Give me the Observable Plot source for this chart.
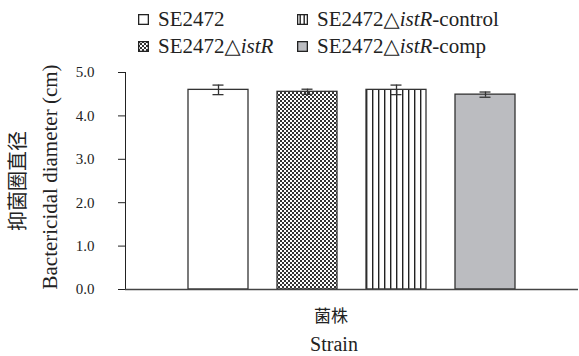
<!DOCTYPE html>
<html>
<head>
<meta charset="utf-8">
<script src="https://cdn.jsdelivr.net/npm/d3@7"></script>
<script src="https://cdn.jsdelivr.net/npm/@observablehq/plot@0.6"></script>
<style>
  body { margin: 0; background: #fff; }
  #wrap { position: relative; width: 579px; height: 356px; font-family: "Liberation Serif", "Times New Roman", "DejaVu Serif", "Liberation Sans", Arial, sans-serif; color: #222; }
  .leg { position: absolute; display: flex; align-items: center; font-size: 21px; white-space: nowrap; height: 24px; }
  .leg svg { margin-right: 9px; }
  .leg i { font-style: italic; }
  #wrap svg g[aria-label^="y-axis"] text { font-size: 15px; fill: #222; }
</style>
</head>
<body>
<svg width="0" height="0" style="position:absolute">
  <defs>
    <pattern id="checker" width="4" height="4" patternUnits="userSpaceOnUse">
      <rect width="4" height="4" fill="#fff"/>
      <rect width="2" height="2" fill="#333"/>
      <rect x="2" y="2" width="2" height="2" fill="#333"/>
    </pattern>
    <pattern id="vlines" width="6" height="6" patternUnits="userSpaceOnUse">
      <rect width="6" height="6" fill="#fff"/>
      <rect x="0" width="1.4" height="6" fill="#222"/>
    </pattern>
    <pattern id="vlinesLeg" width="4" height="10" patternUnits="userSpaceOnUse">
      <rect width="4" height="10" fill="#fff"/>
      <rect x="2.5" width="1.4" height="10" fill="#222"/>
    </pattern>
  </defs>
</svg>
<div id="wrap"></div>
<script>
// Data
const strains = ["SE2472", "SE2472△istR", "SE2472△istR-control", "SE2472△istR-comp"];
const means = [4.60, 4.555, 4.60, 4.49];
const errors = [0.11, 0.06, 0.11, 0.06];
const fills = ["#ffffff", "url(#checker)", "url(#vlines)", "#bbbcc0"];
const yTicks = [0, 1, 2, 3, 4, 5];

const data = strains.map((s, i) => ({strain: s, mean: means[i], err: errors[i], fill: fills[i]}));
const SERIF = "'Liberation Serif', 'Times New Roman', 'DejaVu Serif', 'Liberation Sans', Arial, sans-serif";
const CJK = "'Noto Sans CJK SC', sans-serif";

const plot = Plot.plot({
  width: 579,
  height: 356,
  marginLeft: 125,
  marginRight: 1,
  marginTop: 72,
  marginBottom: 67,
  style: {fontFamily: SERIF, color: "#222", background: "transparent"},
  x: {domain: strains, axis: null, paddingInner: 0.322, paddingOuter: 0.678},
  y: {domain: [0, 5], ticks: yTicks, tickFormat: d3.format(".1f"), tickSize: 7, tickPadding: 24, label: null, line: true, fontSize: 15},
  marks: [
    Plot.barY(data, {x: "strain", y: "mean", fill: "fill", stroke: "#333", strokeWidth: 1.3}),
    Plot.ruleX(data, {x: "strain", y1: d => d.mean - d.err, y2: d => d.mean + d.err, stroke: "#333", strokeWidth: 1.3}),
    Plot.tickY(data, {x: "strain", y: d => d.mean - d.err, stroke: "#333", strokeWidth: 1.3, insetLeft: 24.5, insetRight: 24.5}),
    Plot.tickY(data, {x: "strain", y: d => d.mean + d.err, stroke: "#333", strokeWidth: 1.3, insetLeft: 24.5, insetRight: 24.5}),
    Plot.ruleY([0], {stroke: "#444", strokeWidth: 1.3}),
    Plot.text(["抑菌圈直径"], {frameAnchor: "left", rotate: -90, dx: -107, fontSize: 20, fill: "#222", fontFamily: CJK, textAnchor: "middle", lineAnchor: "middle"}),
    Plot.text(["Bactericidal diameter (cm)"], {frameAnchor: "left", rotate: -90, dx: -75, dy: -4, fontSize: 21, fill: "#222", fontFamily: SERIF, textAnchor: "middle", lineAnchor: "middle"}),
    Plot.text(["菌株"], {frameAnchor: "bottom", dy: 27, dx: -21, fontSize: 17, fill: "#222", fontFamily: CJK, lineAnchor: "middle"}),
    Plot.text(["Strain"], {frameAnchor: "bottom", dy: 55, dx: -18, fontSize: 20, fill: "#222", fontFamily: SERIF, lineAnchor: "middle"})
  ]
});
plot.style.position = "absolute";
plot.style.left = "0px";
plot.style.top = "0px";
const wrap = document.getElementById("wrap");
wrap.appendChild(plot);

// Legend
const legendItems = [
  {html: "SE2472", fill: "#ffffff", left: 138, top: 7},
  {html: "SE2472△<i>istR</i>-control", fill: "url(#vlinesLeg)", left: 297, top: 7},
  {html: "SE2472△<i>istR</i>", fill: "url(#checker)", left: 138, top: 34},
  {html: "SE2472△<i>istR</i>-comp", fill: "#bbbcc0", left: 297, top: 34}
];
legendItems.forEach(it => {
  const d = document.createElement("div");
  d.className = "leg";
  d.style.left = it.left + "px";
  d.style.top = it.top + "px";
  d.innerHTML = `<svg width="11" height="11"><rect x="0.65" y="0.65" width="9.7" height="9.7" fill="${it.fill}" stroke="#222" stroke-width="1.3"/></svg><span>${it.html}</span>`;
  wrap.appendChild(d);
});
</script>
</body>
</html>
